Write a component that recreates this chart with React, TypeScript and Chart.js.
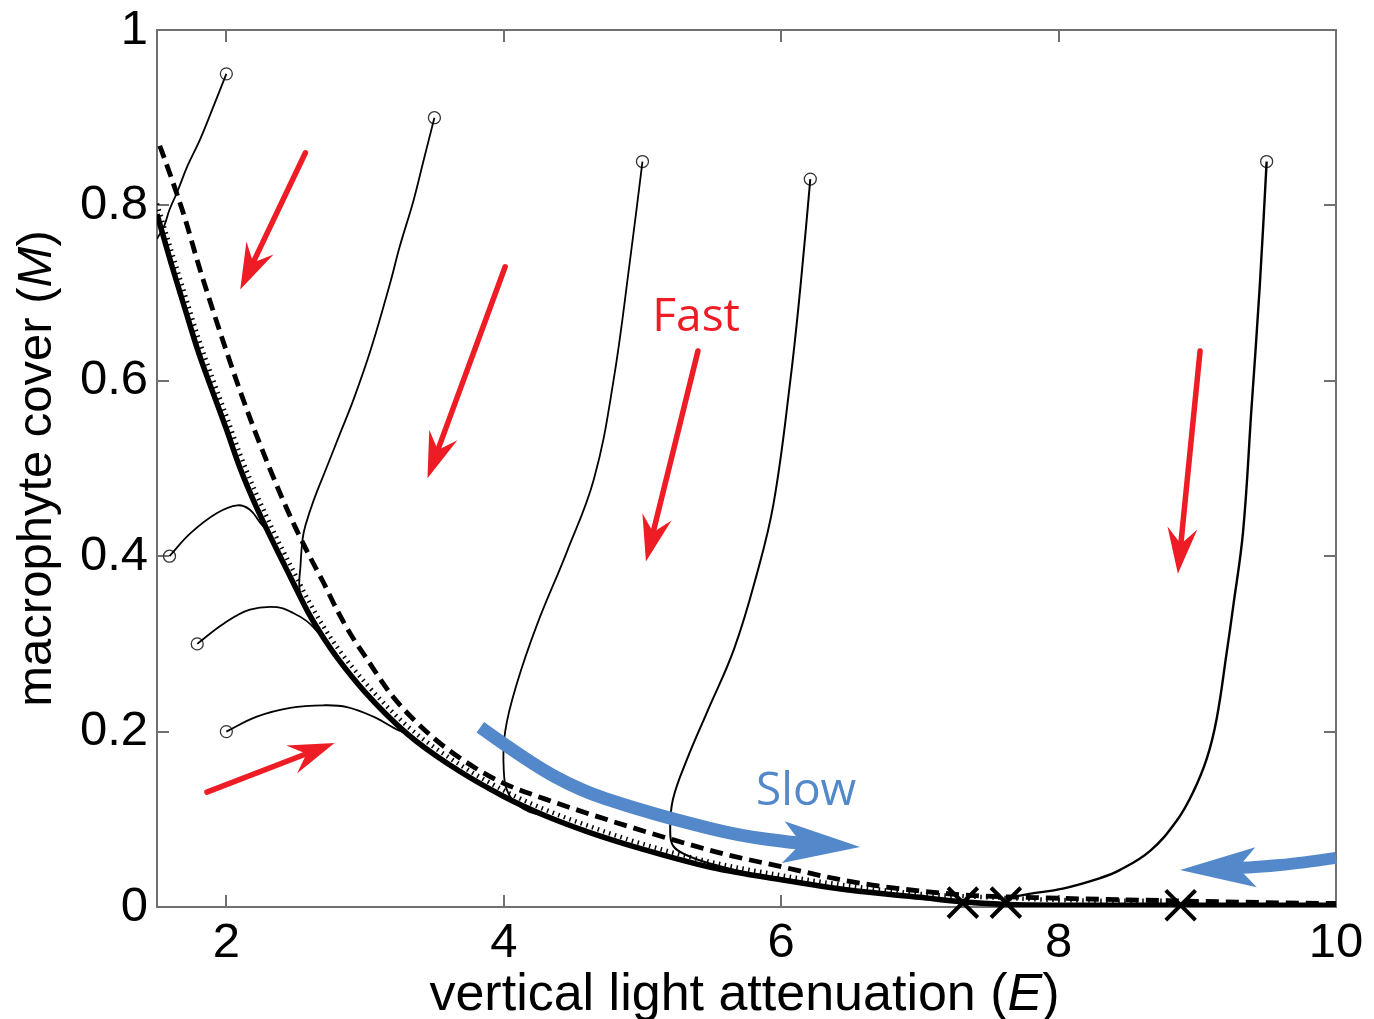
import React, { useEffect, useRef } from 'react';
import { Chart, registerables } from 'chart.js';

Chart.register(...registerables);

// ---- axis ticks ----
const xTickValues = [2, 4, 6, 8, 10];
const yTickValues = [0, 0.2, 0.4, 0.6, 0.8, 1];

// ---- thick solid curve (stable branch) ----
const solidX = [1.5, 1.6, 1.7, 1.8, 1.9, 2.0, 2.1, 2.2, 2.3, 2.4, 2.5, 2.6, 2.7, 2.8, 3.0, 3.3, 3.6, 4.0, 4.3, 4.6, 5.0, 5.5, 6.0, 6.5, 7.0, 7.3, 7.6, 8.0, 9.0, 10.0];
const solidY = [0.79, 0.735, 0.683, 0.632, 0.588, 0.545, 0.5, 0.462, 0.428, 0.396, 0.364, 0.333, 0.307, 0.284, 0.245, 0.198, 0.163, 0.126, 0.104, 0.086, 0.066, 0.045, 0.031, 0.019, 0.011, 0.006, 0.003, 0.002, 0.002, 0.002];

// ---- dotted curve ----
const dottedX = [1.5, 1.6, 1.7, 1.8, 1.9, 2.0, 2.1, 2.2, 2.3, 2.4, 2.5, 2.6, 2.7, 2.8, 3.0, 3.3, 3.6, 4.0, 4.3, 4.6, 5.0, 5.5, 6.0, 6.5, 7.0, 7.5, 8.0, 8.5, 8.85];
const dottedY = [0.802, 0.75, 0.699, 0.648, 0.603, 0.56, 0.516, 0.477, 0.442, 0.409, 0.378, 0.347, 0.32, 0.296, 0.256, 0.207, 0.171, 0.133, 0.111, 0.093, 0.072, 0.051, 0.036, 0.024, 0.015, 0.011, 0.008, 0.007, 0.007];

// ---- dashed curve ----
const dashedX = [1.52, 1.6, 1.7, 1.8, 1.9, 2.0, 2.1, 2.2, 2.3, 2.4, 2.5, 2.6, 2.7, 2.8, 2.9, 3.0, 3.2, 3.5, 3.8, 4.0, 4.3, 4.6, 5.0, 5.3, 5.6, 6.0, 6.4, 6.7, 7.3, 8.0, 8.85, 9.5, 10];
const dashedY = [0.868, 0.833, 0.786, 0.732, 0.682, 0.634, 0.588, 0.545, 0.505, 0.467, 0.432, 0.4, 0.37, 0.338, 0.31, 0.286, 0.24, 0.192, 0.158, 0.141, 0.123, 0.107, 0.087, 0.073, 0.06, 0.046, 0.032, 0.024, 0.014, 0.01, 0.007, 0.005, 0.004];

// ---- trajectories ----
const traj1X = [2.0, 1.9, 1.81, 1.72, 1.645, 1.59, 1.55, 1.5];
const traj1Y = [0.95, 0.91, 0.875, 0.845, 0.815, 0.795, 0.776, 0.762];
const traj2X = [3.5, 3.42, 3.35, 3.25, 3.18, 3.04, 2.92, 2.82, 2.72, 2.63, 2.57, 2.55, 2.535, 2.53, 2.6];
const traj2Y = [0.9, 0.85, 0.806, 0.753, 0.711, 0.635, 0.58, 0.54, 0.5, 0.464, 0.435, 0.42, 0.39, 0.36, 0.333];
const traj3X = [5.0, 4.91, 4.79, 4.65, 4.455, 4.24, 4.095, 4.01, 4.0, 4.035, 4.14, 4.3, 4.6];
const traj3Y = [0.85, 0.737, 0.599, 0.488, 0.405, 0.322, 0.255, 0.2, 0.156, 0.129, 0.112, 0.103, 0.088];
const traj4X = [6.21, 6.14, 6.065, 5.945, 5.82, 5.66, 5.465, 5.32, 5.22, 5.2, 5.22, 5.32, 5.5, 5.8];
const traj4Y = [0.83, 0.709, 0.599, 0.46, 0.377, 0.294, 0.222, 0.168, 0.123, 0.09, 0.07, 0.059, 0.049, 0.037];
const traj5X = [9.5, 9.45, 9.39, 9.33, 9.26, 9.21, 9.14, 9.07, 8.97, 8.85, 8.66, 8.44, 8.3, 8.03, 7.79, 7.62];
const traj5Y = [0.85, 0.707, 0.567, 0.428, 0.344, 0.288, 0.215, 0.17, 0.131, 0.098, 0.064, 0.042, 0.033, 0.021, 0.015, 0.01];
const traj6X = [1.59, 1.74, 1.93, 2.08, 2.17, 2.245, 2.3];
const traj6Y = [0.4, 0.426, 0.449, 0.458, 0.453, 0.438, 0.428];
const traj7X = [1.79, 1.98, 2.17, 2.365, 2.485, 2.58, 2.65, 2.75];
const traj7Y = [0.3, 0.323, 0.339, 0.342, 0.335, 0.326, 0.315, 0.297];
const traj8X = [2.0, 2.22, 2.46, 2.7, 2.87, 3.06, 3.21, 3.3, 3.45];
const traj8Y = [0.2, 0.217, 0.227, 0.23, 0.228, 0.217, 0.204, 0.197, 0.18];

// ---- start points and equilibria ----
const startX = [2.0, 3.5, 5.0, 6.21, 9.5, 1.59, 1.79, 2.0];
const startY = [0.95, 0.9, 0.85, 0.83, 0.85, 0.4, 0.3, 0.2];
const eqX = [7.31, 7.62, 8.88];
const eqY = [0.005, 0.005, 0.002];

// ---- annotations (data coordinates) ----
const redTailX = [2.57, 4.01, 5.4, 9.02, 1.86];
const redTailY = [0.86, 0.73, 0.634, 0.634, 0.131];
const redTipX = [2.1, 3.45, 5.025, 8.86, 2.78];
const redTipY = [0.704, 0.489, 0.394, 0.38, 0.187];
const slowArrowX = [3.831, 4.191, 4.551, 4.912, 5.272, 5.705, 6.115, 6.569];
const slowArrowY = [0.205, 0.164, 0.133, 0.114, 0.098, 0.081, 0.073, 0.0684];
const backArrowX = [10.0, 9.74, 9.45, 8.876];
const backArrowY = [0.056, 0.05, 0.0456, 0.0422];
const fastLabel = { text: 'Fast', x: 5.387, y: 0.672 };
const slowLabel = { text: 'Slow', x: 6.18, y: 0.131 };

const RED = '#ee1c25';
const BLUE = '#5388ca';

const zip = (xs: number[], ys: number[]) => xs.map((x, i) => ({ x, y: ys[i] }));

function drawHead(ctx: CanvasRenderingContext2D, tx: number, ty: number, ang: number, len: number, hw: number, notch: number) {
  ctx.save();
  ctx.translate(tx, ty);
  ctx.rotate(ang);
  ctx.beginPath();
  ctx.moveTo(0, 0);
  ctx.lineTo(-len, -hw);
  ctx.lineTo(-len + notch, 0);
  ctx.lineTo(-len, hw);
  ctx.closePath();
  ctx.fill();
  ctx.restore();
}

function smoothPath(ctx: CanvasRenderingContext2D, pts: { x: number; y: number }[]) {
  ctx.beginPath();
  ctx.moveTo(pts[0].x, pts[0].y);
  for (let i = 1; i < pts.length - 1; i++) {
    const mx = (pts[i].x + pts[i + 1].x) / 2;
    const my = (pts[i].y + pts[i + 1].y) / 2;
    ctx.quadraticCurveTo(pts[i].x, pts[i].y, mx, my);
  }
  const l = pts[pts.length - 1];
  ctx.lineTo(l.x, l.y);
}

const framePlugin = {
  id: 'frame',
  beforeDatasetsDraw(chart: any) {
    const { ctx, chartArea, scales } = chart;
    const { left, right, top, bottom } = chartArea;
    ctx.save();
    ctx.strokeStyle = '#707070';
    ctx.lineWidth = 2;
    ctx.strokeRect(left, top, right - left, bottom - top);
    const tl = 12;
    ctx.beginPath();
    xTickValues.forEach((v) => {
      const px = Math.round(scales.x.getPixelForValue(v));
      ctx.moveTo(px, bottom);
      ctx.lineTo(px, bottom - tl);
      ctx.moveTo(px, top);
      ctx.lineTo(px, top + tl);
    });
    yTickValues.forEach((v) => {
      const py = Math.round(scales.y.getPixelForValue(v));
      ctx.moveTo(left, py);
      ctx.lineTo(left + tl, py);
      ctx.moveTo(right, py);
      ctx.lineTo(right - tl, py);
    });
    ctx.stroke();
    ctx.restore();
  },
  afterDatasetsDraw(chart: any) {
    const { ctx, scales } = chart;
    const X = (v: number) => scales.x.getPixelForValue(v);
    const Y = (v: number) => scales.y.getPixelForValue(v);
    ctx.save();
    // red arrows
    ctx.strokeStyle = RED;
    ctx.fillStyle = RED;
    ctx.lineWidth = 5.5;
    ctx.lineCap = 'round';
    redTailX.forEach((_, i) => {
      const x0 = X(redTailX[i]), y0 = Y(redTailY[i]);
      const x1 = X(redTipX[i]), y1 = Y(redTipY[i]);
      const ang = Math.atan2(y1 - y0, x1 - x0);
      const len = 46, hw = 15, notch = 16;
      const ex = x1 - Math.cos(ang) * (len - notch - 2);
      const ey = y1 - Math.sin(ang) * (len - notch - 2);
      ctx.beginPath();
      ctx.moveTo(x0, y0);
      ctx.lineTo(ex, ey);
      ctx.stroke();
      drawHead(ctx, x1, y1, ang, len, hw, notch);
    });
    // blue slow arrow
    ctx.strokeStyle = BLUE;
    ctx.fillStyle = BLUE;
    ctx.lineCap = 'butt';
    const sp = slowArrowX.map((x, i) => ({ x: X(x), y: Y(slowArrowY[i]) }));
    const tip = sp[sp.length - 1];
    const prev = sp[sp.length - 2];
    const ang = Math.atan2(tip.y - prev.y, tip.x - prev.x);
    const shaft = sp.slice(0, -1);
    shaft.push({ x: tip.x - Math.cos(ang) * 58, y: tip.y - Math.sin(ang) * 58 });
    ctx.lineWidth = 13;
    smoothPath(ctx, shaft);
    ctx.stroke();
    drawHead(ctx, tip.x, tip.y, ang, 77, 21, 18);
    // blue back arrow
    const bp = backArrowX.map((x, i) => ({ x: X(x), y: Y(backArrowY[i]) }));
    const btip = bp[bp.length - 1];
    const bprev = bp[bp.length - 2];
    const bang = Math.atan2(btip.y - bprev.y, btip.x - bprev.x);
    const bshaft = bp.slice(0, -1);
    bshaft.push({ x: btip.x - Math.cos(bang) * 58, y: btip.y - Math.sin(bang) * 58 });
    ctx.lineWidth = 12;
    smoothPath(ctx, bshaft);
    ctx.stroke();
    drawHead(ctx, btip.x, btip.y, bang, 76, 20, 18);
    // labels
    ctx.font = '46px "Open Sans", sans-serif';
    ctx.textAlign = 'center';
    ctx.textBaseline = 'middle';
    ctx.fillStyle = RED;
    ctx.fillText(fastLabel.text, X(fastLabel.x), Y(fastLabel.y));
    ctx.fillStyle = BLUE;
    ctx.fillText(slowLabel.text, X(slowLabel.x), Y(slowLabel.y));
    ctx.restore();
  },
  afterDraw(chart: any) {
    const { ctx, chartArea } = chart;
    const drawParts = (parts: [string, boolean][], size: number) => {
      const fontN = `${size}px "Liberation Sans", Arial, sans-serif`;
      const fontI = `italic ${size}px "Liberation Sans", Arial, sans-serif`;
      let total = 0;
      parts.forEach(([t, it]) => {
        ctx.font = it ? fontI : fontN;
        total += ctx.measureText(t).width;
      });
      let cx = -total / 2;
      parts.forEach(([t, it]) => {
        ctx.font = it ? fontI : fontN;
        ctx.fillText(t, cx, 0);
        cx += ctx.measureText(t).width;
      });
    };
    ctx.save();
    ctx.fillStyle = '#000';
    ctx.textAlign = 'left';
    ctx.textBaseline = 'alphabetic';
    // x title
    ctx.save();
    ctx.translate((chartArea.left + chartArea.right) / 2 - 2, 1010);
    drawParts([['vertical light attenuation (', false], ['E', true], [')', false]], 52);
    ctx.restore();
    // y title
    ctx.save();
    ctx.translate(51, (chartArea.top + chartArea.bottom) / 2);
    ctx.rotate(-Math.PI / 2);
    drawParts([['macrophyte cover (', false], ['M', true], [')', false]], 49);
    ctx.restore();
    ctx.restore();
  },
};

const lineDs = (data: any[], width: number, extra: any = {}) => ({
  data,
  showLine: true,
  borderColor: '#000',
  backgroundColor: '#000',
  borderWidth: width,
  pointRadius: 0,
  tension: 0.4,
  fill: false,
  ...extra,
});

export default function App() {
  const ref = useRef<HTMLCanvasElement>(null);
  useEffect(() => {
    document.body.style.margin = '0';
    document.body.style.overflow = 'hidden';
    const tickFont = { family: '"Liberation Sans", Arial, sans-serif', size: 49 };
    const chart = new Chart(ref.current as HTMLCanvasElement, {
      type: 'scatter',
      data: {
        datasets: [
          lineDs(zip(solidX, solidY), 5.5, { cubicInterpolationMode: 'monotone' }),
          lineDs(zip(dottedX, dottedY), 4.5, { cubicInterpolationMode: 'monotone', borderDash: [1.5, 4.5] }),
          lineDs(zip(dashedX, dashedY), 4.8, { cubicInterpolationMode: 'monotone', borderDash: [13, 7] }),
          lineDs(zip(traj1X, traj1Y), 1.8),
          lineDs(zip(traj2X, traj2Y), 1.8),
          lineDs(zip(traj3X, traj3Y), 1.8),
          lineDs(zip(traj4X, traj4Y), 2),
          lineDs(zip(traj5X, traj5Y), 2.4),
          lineDs(zip(traj6X, traj6Y), 1.8),
          lineDs(zip(traj7X, traj7Y), 1.8),
          lineDs(zip(traj8X, traj8Y), 1.8),
          {
            data: zip(startX, startY),
            showLine: false,
            pointStyle: 'circle',
            pointRadius: 6,
            borderColor: '#333',
            borderWidth: 1.3,
            backgroundColor: 'rgba(255,255,255,0)',
          },
          {
            data: zip(eqX, eqY),
            showLine: false,
            clip: false,
            pointStyle: 'crossRot',
            pointRadius: 21,
            borderColor: '#000',
            borderWidth: 4,
            backgroundColor: '#000',
          },
        ],
      },
      options: {
        responsive: false,
        animation: false,
        events: [],
        layout: { autoPadding: false, padding: { left: 0, top: 30, right: 38, bottom: 0 } },
        plugins: { legend: { display: false }, tooltip: { enabled: false } },
        scales: {
          x: {
            type: 'linear',
            min: 1.5,
            max: 10,
            grid: { display: false, drawTicks: false },
            border: { display: false },
            afterBuildTicks: (s: any) => {
              s.ticks = xTickValues.map((v) => ({ value: v }));
            },
            afterFit: (s: any) => {
              s.height = 112;
              s.paddingLeft = 0;
              s.paddingRight = 0;
              s.paddingTop = 0;
              s.paddingBottom = 0;
            },
            ticks: { font: tickFont, color: '#000', padding: 7, maxRotation: 0, autoSkip: false },
          },
          y: {
            type: 'linear',
            min: 0,
            max: 1,
            grid: { display: false, drawTicks: false },
            border: { display: false },
            afterBuildTicks: (s: any) => {
              s.ticks = yTickValues.map((v) => ({ value: v }));
            },
            afterFit: (s: any) => {
              s.width = 157;
              s.paddingLeft = 0;
              s.paddingRight = 0;
              s.paddingTop = 0;
              s.paddingBottom = 0;
            },
            ticks: {
              font: tickFont,
              color: '#000',
              padding: 9,
              autoSkip: false,
              callback: (v: any) => String(Math.round(Number(v) * 10) / 10),
            },
          },
        },
      },
      plugins: [framePlugin],
    } as any);
    return () => chart.destroy();
  }, []);
  return (
    <div style={{ width: 1374, height: 1019 }}>
      <canvas ref={ref} width={1374} height={1019} style={{ display: 'block' }} />
    </div>
  );
}
